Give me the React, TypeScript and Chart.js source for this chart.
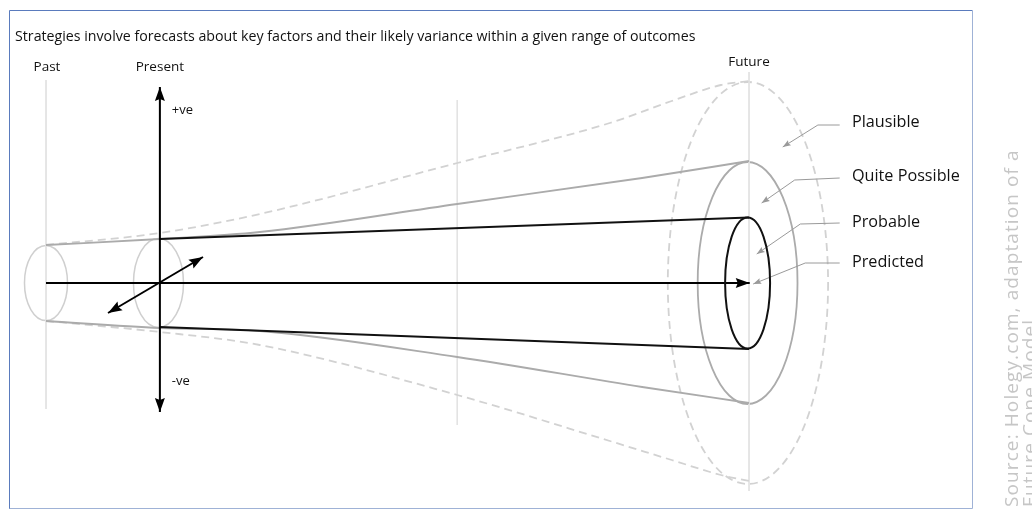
import { useEffect, useRef } from 'react';
import { Chart, registerables } from 'chart.js';
Chart.register(...registerables);

const W = 1032;
const H = 510;

// ---------- data (time axis t: Past = 0, Future = 100; v = spread of outcomes) ----------
const titleText = 'Strategies involve forecasts about key factors and their likely variance within a given range of outcomes';
const stageLabels = ['Past', 'Present', 'Future'];
const stageT = [0, 16.2, 100];
const stageLabelV = [216, 216, 221];
const midT = 58.5;

// guide lines [t, top v, bottom v]
const guideT = [0, midT, 100];
const guideTop = [203, 183, 211];
const guideBottom = [-126, -142, -208];

// probable cone (black)
const probableT = [16.2, 100];
const probableUpper = [44, 65.5];
const probableLower = [44, 66];

// quite possible cone (grey)
const quiteT = [0, 16.2, 30.4, 58.5, 84.8, 100];
const quiteUpper = [38, 44, 51, 79, 105, 122];
const quiteLower = [38, 45, 48, 74, 104, 120];

// plausible cone (dashed)
const plausT = [0, 16.2, 30.4, 58.5, 80.2, 89, 96, 100];
const plausUpper = [38, 50, 69, 120, 160, 182, 198, 202];
const plausLower = [38, 49, 62, 112, 158, 177, 192, 198];

// cross-section ellipses: centre t, radius in t, radius in v
const ringNames = ['past', 'present', 'plausible', 'quite', 'probable'];
const ringT = [0, 16.0, 99.85, 99.8, 99.8];
const ringRT = [3.06, 3.56, 11.4, 7.1, 3.2];
const ringRV = [37.5, 44.5, 201, 121, 65.5];

// axes of the present
const presentAxisT = [16.2, 16.2];
const presentAxisV = [196, -129];
const timeArrowT = [0, 100.1];
const timeArrowV = [0, 0];
const diagT = [8.82, 22.33];
const diagV = [-30, 26];
const axisLabels = ['+ve', '-ve'];
const axisLabelT = [17.9, 17.9];
const axisLabelV = [173, -98];

// outcome labels and leaders
const outcomeLabels = ['Plausible', 'Quite Possible', 'Probable', 'Predicted'];
const outcomeLabelT = [114.65, 114.65, 114.65, 114.65];
const outcomeLabelV = [161, 107, 61, 21];
const leaderT = [
  [112.9, 109.8, 104.8],
  [112.9, 106.5, 101.8],
  [112.9, 107.3, 101.1],
  [112.9, 108.0, 100.6],
];
const leaderV = [
  [158, 158, 136],
  [105, 103, 80],
  [60, 59, 29],
  [20, 20, -1],
];

const sourceLines = ['Source: Holegy.com, adaptation of a', 'Future Cone Model'];

// ---------- scale mapping ----------
const PX_PER_T = 7.03;
const ORIGIN_X = 46;
const ORIGIN_Y = 283;
const X_MIN = -ORIGIN_X / PX_PER_T;
const X_MAX = (W - ORIGIN_X) / PX_PER_T;
const Y_MIN = -(H - ORIGIN_Y);
const Y_MAX = ORIGIN_Y;

const FONT = '"Open Sans", "Noto Sans", sans-serif';

function pts(ts: number[], vs: number[]) {
  return ts.map((t, i) => ({ x: t, y: vs[i] }));
}

function lineDs(ts: number[], vs: number[], style: any) {
  return {
    data: pts(ts, vs),
    showLine: true,
    pointRadius: 0,
    pointHoverRadius: 0,
    fill: false,
    borderCapStyle: 'butt',
    ...style,
  };
}

const ringStyles: Record<string, { color: string; width: number; dash: number[] }> = {
  past: { color: '#cfcfcf', width: 1.5, dash: [] },
  present: { color: '#cfcfcf', width: 1.5, dash: [] },
  plausible: { color: '#d2d2d2', width: 1.8, dash: [8, 5] },
  quite: { color: '#ababab', width: 1.8, dash: [] },
  probable: { color: '#111111', width: 2, dash: [] },
};

function drawArrowHead(ctx: CanvasRenderingContext2D, tipX: number, tipY: number, fromX: number, fromY: number, len: number, half: number, color: string) {
  const a = Math.atan2(tipY - fromY, tipX - fromX);
  ctx.save();
  ctx.translate(tipX, tipY);
  ctx.rotate(a);
  ctx.beginPath();
  ctx.moveTo(0, 0);
  ctx.lineTo(-len, -half);
  ctx.lineTo(-len * 0.85, 0);
  ctx.lineTo(-len, half);
  ctx.closePath();
  ctx.fillStyle = color;
  ctx.fill();
  ctx.restore();
}

const diagramPlugin = {
  id: 'diagram',
  beforeDraw(chart: any) {
    const { ctx } = chart;
    ctx.save();
    ctx.fillStyle = '#ffffff';
    ctx.fillRect(0, 0, chart.width, chart.height);
    ctx.restore();
  },
  beforeDatasetsDraw(chart: any) {
    const { ctx } = chart;
    const xs = chart.scales.x;
    const ys = chart.scales.y;
    ringNames.forEach((name, i) => {
      if (name === 'probable') return;
      const s = ringStyles[name];
      const cx = xs.getPixelForValue(ringT[i]);
      const cy = ys.getPixelForValue(0);
      const rx = Math.abs(xs.getPixelForValue(ringT[i] + ringRT[i]) - cx);
      const ry = Math.abs(ys.getPixelForValue(ringRV[i]) - cy);
      ctx.save();
      ctx.strokeStyle = s.color;
      ctx.lineWidth = s.width;
      ctx.setLineDash(s.dash);
      ctx.beginPath();
      ctx.ellipse(cx, cy, rx, ry, 0, 0, Math.PI * 2);
      ctx.stroke();
      ctx.restore();
    });
  },
  afterDatasetsDraw(chart: any) {
    const { ctx } = chart;
    const xs = chart.scales.x;
    const ys = chart.scales.y;
    // probable ring on top
    ringNames.forEach((name, i) => {
      if (name !== 'probable') return;
      const s = ringStyles[name];
      const cx = xs.getPixelForValue(ringT[i]);
      const cy = ys.getPixelForValue(0);
      const rx = Math.abs(xs.getPixelForValue(ringT[i] + ringRT[i]) - cx);
      const ry = Math.abs(ys.getPixelForValue(ringRV[i]) - cy);
      ctx.save();
      ctx.strokeStyle = s.color;
      ctx.lineWidth = s.width;
      ctx.beginPath();
      ctx.ellipse(cx, cy, rx, ry, 0, 0, Math.PI * 2);
      ctx.stroke();
      ctx.restore();
    });
    // arrow heads
    chart.data.datasets.forEach((ds: any, i: number) => {
      if (!ds.arrowEnd && !ds.arrowStart) return;
      const meta = chart.getDatasetMeta(i);
      const p = meta.data;
      const n = p.length;
      const len = ds.arrowLen || 12;
      const half = ds.arrowHalf || 4.5;
      const col = ds.borderColor;
      if (ds.arrowEnd) drawArrowHead(ctx, p[n - 1].x, p[n - 1].y, p[n - 2].x, p[n - 2].y, len, half, col);
      if (ds.arrowStart) drawArrowHead(ctx, p[0].x, p[0].y, p[1].x, p[1].y, len, half, col);
    });

    // texts
    ctx.save();
    ctx.fillStyle = '#111111';
    ctx.textBaseline = 'middle';
    ctx.font = `14.2px ${FONT}`;
    ctx.textAlign = 'left';
    ctx.fillText(titleText, 15, 37);

    ctx.font = `13.5px ${FONT}`;
    ctx.textAlign = 'center';
    stageLabels.forEach((l, i) => {
      ctx.fillText(l, xs.getPixelForValue(stageT[i]) + (i === 0 ? 1 : 0), ys.getPixelForValue(stageLabelV[i]));
    });
    ctx.font = `13px ${FONT}`;
    ctx.textAlign = 'left';
    axisLabels.forEach((l, i) => {
      ctx.fillText(l, xs.getPixelForValue(axisLabelT[i]), ys.getPixelForValue(axisLabelV[i]));
    });
    ctx.font = `16.2px ${FONT}`;
    outcomeLabels.forEach((l, i) => {
      ctx.fillText(l, xs.getPixelForValue(outcomeLabelT[i]), ys.getPixelForValue(outcomeLabelV[i]));
    });
    ctx.restore();

    // source (rotated)
    ctx.save();
    ctx.fillStyle = '#c6c6c6';
    ctx.font = `19px ${FONT}`;
    (ctx as any).letterSpacing = '1.1px';
    ctx.textAlign = 'left';
    ctx.textBaseline = 'alphabetic';
    ctx.translate(1018, 507);
    ctx.rotate(-Math.PI / 2);
    ctx.fillText(sourceLines[0], 0, 0);
    ctx.fillText(sourceLines[1], 0, 17.5);
    ctx.restore();

    // frame
    ctx.save();
    ctx.lineWidth = 1;
    ctx.strokeStyle = '#5a7bbd';
    ctx.beginPath();
    ctx.moveTo(9.5, 509);
    ctx.lineTo(9.5, 10.5);
    ctx.lineTo(972.5, 10.5);
    ctx.stroke();
    ctx.strokeStyle = '#9fb2d6';
    ctx.beginPath();
    ctx.moveTo(972.5, 10.5);
    ctx.lineTo(972.5, 508.5);
    ctx.lineTo(9.5, 508.5);
    ctx.stroke();
    ctx.restore();
  },
};

export default function App() {
  const ref = useRef<HTMLCanvasElement>(null);
  useEffect(() => {
    const guideStyle = { borderColor: '#e2e2e2', borderWidth: 1, order: 10 };
    const datasets: any[] = [];
    guideT.forEach((t, i) => {
      datasets.push(lineDs([t, t], [guideTop[i], guideBottom[i]], guideStyle));
    });
    datasets.push(lineDs(plausT, plausUpper, { borderColor: '#d2d2d2', borderWidth: 1.8, borderDash: [8, 5], cubicInterpolationMode: 'monotone', order: 8 }));
    datasets.push(lineDs(plausT, plausLower.map((v) => -v), { borderColor: '#d2d2d2', borderWidth: 1.8, borderDash: [8, 5], cubicInterpolationMode: 'monotone', order: 8 }));
    datasets.push(lineDs(quiteT, quiteUpper, { borderColor: '#ababab', borderWidth: 1.8, cubicInterpolationMode: 'monotone', order: 6 }));
    datasets.push(lineDs(quiteT, quiteLower.map((v) => -v), { borderColor: '#ababab', borderWidth: 1.8, cubicInterpolationMode: 'monotone', order: 6 }));
    datasets.push(lineDs(probableT, probableUpper, { borderColor: '#111111', borderWidth: 2, order: 4 }));
    datasets.push(lineDs(probableT, probableLower.map((v) => -v), { borderColor: '#111111', borderWidth: 2, order: 4 }));
    leaderT.forEach((ts, i) => {
      datasets.push({ ...lineDs(ts, leaderV[i], { borderColor: '#9a9a9a', borderWidth: 1, order: 3 }), arrowEnd: true, arrowLen: 8, arrowHalf: 3 });
    });
    datasets.push({ ...lineDs(presentAxisT, presentAxisV, { borderColor: '#000000', borderWidth: 2, order: 1 }), arrowStart: true, arrowEnd: true, arrowLen: 14, arrowHalf: 5 });
    datasets.push({ ...lineDs(timeArrowT, timeArrowV, { borderColor: '#000000', borderWidth: 2, order: 1 }), arrowEnd: true, arrowLen: 14, arrowHalf: 5 });
    datasets.push({ ...lineDs(diagT, diagV, { borderColor: '#000000', borderWidth: 2, order: 1 }), arrowStart: true, arrowEnd: true, arrowLen: 14, arrowHalf: 5 });

    const chart = new Chart(ref.current as HTMLCanvasElement, {
      type: 'scatter',
      data: { datasets },
      options: {
        responsive: false,
        maintainAspectRatio: false,
        devicePixelRatio: 1,
        animation: false,
        events: [],
        layout: { padding: 0 },
        plugins: { legend: { display: false }, tooltip: { enabled: false }, title: { display: false } },
        scales: {
          x: { type: 'linear', display: false, min: X_MIN, max: X_MAX },
          y: { type: 'linear', display: false, min: Y_MIN, max: Y_MAX },
        },
      },
      plugins: [diagramPlugin],
    } as any);
    return () => chart.destroy();
  }, []);
  return (
    <div style={{ position: 'fixed', left: 0, top: 0, width: W, height: H, background: '#fff' }}>
      <canvas ref={ref} width={W} height={H} style={{ display: 'block', width: W, height: H }} />
    </div>
  );
}
